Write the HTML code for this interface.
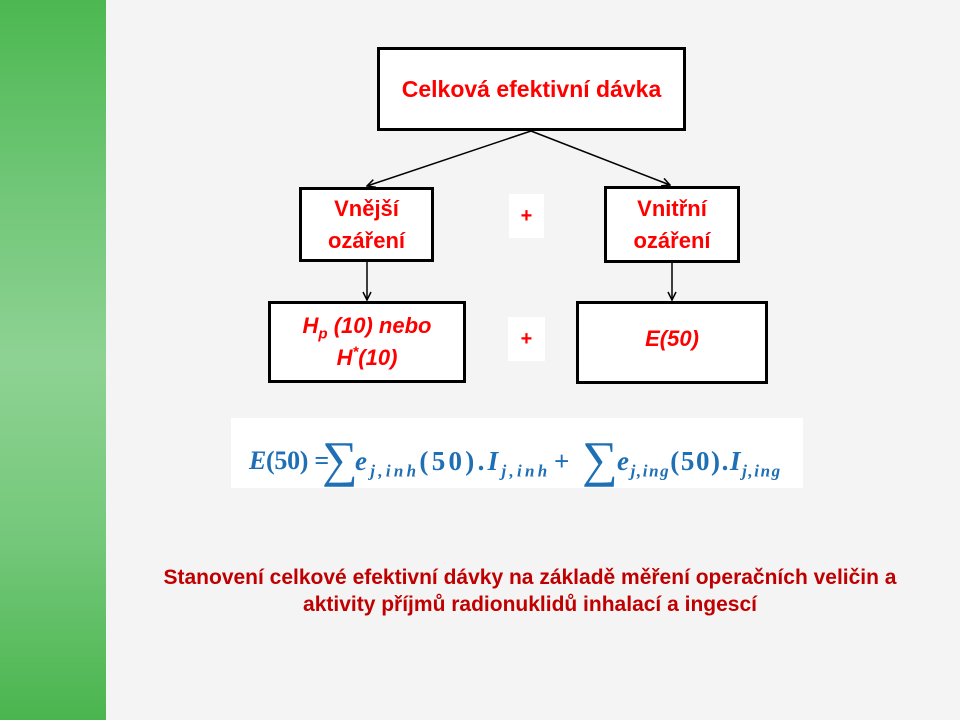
<!DOCTYPE html>
<html><head><meta charset="utf-8"><style>
body{margin:0;width:960px;height:720px;background:#f4f4f4;position:relative;overflow:hidden;font-family:"Liberation Sans",sans-serif}
.g{position:absolute;left:0;top:0;width:106px;height:720px;background:linear-gradient(#4cb850 0%,#6fc676 25%,#8ed293 50%,#74c87a 75%,#4ab54e 100%)}
.b{position:absolute;background:#fff;border:3px solid #000;box-sizing:border-box;color:#ff0000;font-weight:bold;display:flex;align-items:center;justify-content:center;text-align:center;font-size:22px;line-height:32px}
.p{position:absolute;background:#fff;color:#f00;font-weight:bold;font-size:20px;display:flex;align-items:center;justify-content:center}
.t{position:absolute;left:60px;width:940px;text-align:center;color:#c00000;font-weight:bold;font-size:21px;line-height:27px;top:564px}
.f span{position:absolute;top:28px}
.f sub{font-size:17px}
</style></head><body>
<div class="g"></div>
<div class="b" style="left:377px;top:47px;width:309px;height:84px;font-size:23px">Celková efektivní dávka</div>
<div class="b" style="left:299px;top:187px;width:135px;height:75px">Vnější<br>ozáření</div>
<div class="b" style="left:604px;top:186px;width:136px;height:77px">Vnitřní<br>ozáření</div>
<div class="b" style="left:268px;top:301px;width:198px;height:82px;font-style:italic"><div>H<sub style="font-size:15px;line-height:0">p</sub>&nbsp;(10) nebo<br>H<sup style="font-size:15px;line-height:0">*</sup>(10)</div></div>
<div class="b" style="left:576px;top:301px;width:192px;height:83px;font-style:italic;align-items:flex-start;padding-top:19px">E(50)</div>
<div class="p" style="left:509px;top:194px;width:35px;height:44px">+</div>
<div class="p" style="left:508px;top:317px;width:37px;height:44px">+</div>
<svg style="position:absolute;left:0;top:0" width="960" height="720">
<defs><marker id="a" markerWidth="10" markerHeight="10" refX="9" refY="5" orient="auto" markerUnits="userSpaceOnUse"><path d="M1,1 L9,5 L1,9" fill="none" stroke="#000" stroke-width="1.5"/></marker></defs>
<g stroke="#000" stroke-width="1.5" marker-end="url(#a)">
<line x1="531" y1="131" x2="367" y2="186"/>
<line x1="531" y1="131" x2="670" y2="185"/>
<line x1="367" y1="262" x2="367" y2="300"/>
<line x1="672" y1="263" x2="672" y2="300"/>
</g></svg>
<div class="f" style="position:absolute;left:231px;top:418px;width:572px;height:70px;background:#fff;color:#1f6fb5;font-family:'Liberation Serif',serif;font-weight:bold;font-size:27px;white-space:nowrap">
<span style="left:18px;letter-spacing:-0.3px;font-size:26px"><i>E</i>(50) =</span>
<span style="left:91px;top:12px;font-size:50px;font-weight:normal">∑</span>
<span style="left:124px;letter-spacing:3.3px"><i>e<sub>j,inh</sub></i>(50).<i>I<sub>j,inh</sub></i></span>
<span style="left:323px">+</span>
<span style="left:351px;top:12px;font-size:50px;font-weight:normal">∑</span>
<span style="left:386px;letter-spacing:1.6px"><i>e<sub>j,ing</sub></i>(50).<i>I<sub>j,ing</sub></i></span>
</div>
<div class="t">Stanovení celkové efektivní dávky na základě měření operačních veličin a<br>aktivity příjmů radionuklidů inhalací a ingescí</div>
</body></html>
